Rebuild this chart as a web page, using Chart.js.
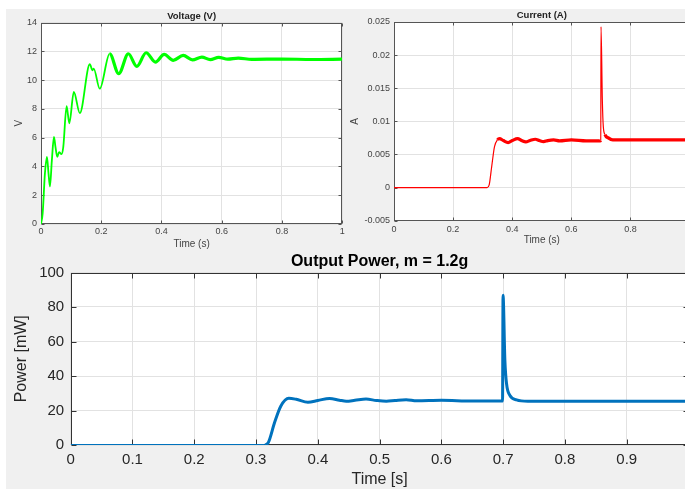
<!DOCTYPE html>
<html>
<head>
<meta charset="utf-8">
<script src="https://cdn.jsdelivr.net/npm/chart.js@4.4.1/dist/chart.umd.min.js"></script>
<style>
  html, body { margin: 0; padding: 0; background: #fff; overflow: hidden; width: 685px; height: 490px; }
  #panel { position: absolute; left: 6px; top: 9px; width: 679px; height: 480px; background: #f0f0f0; }
  canvas { position: absolute; }
</style>
</head>
<body>
<div id="panel"></div>
<canvas id="volt" width="340" height="241" style="left:7px;top:9px"></canvas>
<canvas id="curr" width="349" height="241" style="left:347px;top:9px"></canvas>
<canvas id="pow" width="690" height="239" style="left:7px;top:250px"></canvas>
<script>
// values
const voltTime = [0, 0.0055, 0.013, 0.0198, 0.025, 0.0297, 0.036, 0.043, 0.048, 0.054, 0.060, 0.068, 0.074, 0.085, 0.094, 0.109, 0.129, 0.162, 0.171, 0.175, 0.195, 0.228, 0.258, 0.290, 0.318, 0.349, 0.380, 0.409, 0.439, 0.472, 0.503, 0.534, 0.562, 0.590, 0.620, 0.655, 0.700, 0.800, 0.900, 1.0];
const voltValue = [0, 0.74, 3.5, 4.66, 3.5, 2.6, 4.4, 6.05, 5.36, 4.66, 5.0, 4.85, 5.36, 8.18, 7.0, 9.17, 7.7, 11.1, 10.67, 10.8, 9.4, 11.83, 10.44, 11.83, 10.95, 11.9, 11.25, 11.78, 11.37, 11.71, 11.41, 11.6, 11.42, 11.58, 11.45, 11.52, 11.44, 11.46, 11.43, 11.45];

const currTime = [0, 0.315, 0.322, 0.33, 0.34, 0.35, 0.357, 0.37, 0.386, 0.40, 0.418, 0.432, 0.446, 0.46, 0.478, 0.492, 0.506, 0.52, 0.54, 0.56, 0.60, 0.65, 0.697, 0.6995, 0.7003, 0.7048, 0.7081, 0.7137, 0.725, 0.74, 1.0];
const currValue = [0, 0, 0.0004, 0.003, 0.0062, 0.0072, 0.0074, 0.0071, 0.0068, 0.0071, 0.0074, 0.0071, 0.0069, 0.0071, 0.0073, 0.0071, 0.00695, 0.0071, 0.0072, 0.00705, 0.0072, 0.00705, 0.00705, 0.0071, 0.0243, 0.0132, 0.0092, 0.0080, 0.0075, 0.0072, 0.0072];

const powTime = [0, 0.314, 0.32, 0.33, 0.34, 0.353, 0.365, 0.384, 0.40, 0.419, 0.435, 0.446, 0.46, 0.478, 0.495, 0.511, 0.525, 0.543, 0.56, 0.60, 0.65, 0.699, 0.6998, 0.7028, 0.7055, 0.711, 0.7217, 0.74, 1.0];
const powValue = [0, 0, 1.5, 13, 22.5, 27.1, 26.5, 24.8, 25.8, 27.0, 26.0, 25.4, 25.9, 26.6, 25.8, 25.4, 25.8, 26.2, 25.6, 25.9, 25.5, 25.5, 86.8, 49, 35.5, 28.7, 26.2, 25.4, 25.3];

const xTicksTop = [0, 0.2, 0.4, 0.6, 0.8, 1];
const voltTicks = [0, 2, 4, 6, 8, 10, 12, 14];
const currTicks = [-0.005, 0, 0.005, 0.01, 0.015, 0.02, 0.025];
const xTicksPow = [0, 0.1, 0.2, 0.3, 0.4, 0.5, 0.6, 0.7, 0.8, 0.9];
const powTicks = [0, 20, 40, 60, 80, 100];

const FONT = "'Liberation Sans', Arial, sans-serif";

function axesDecor(o) {
  return {
    id: 'axesDecor',
    beforeDraw(chart) {
      const a = chart.chartArea, c = chart.ctx;
      c.save();
      c.fillStyle = '#fff';
      c.fillRect(a.left, a.top, a.right - a.left, a.bottom - a.top);
      c.restore();
    },
    // box + inner ticks go under the trace, like the zero line in the bottom plot
    beforeDatasetsDraw(chart) {
      const a = chart.chartArea, c = chart.ctx;
      const L = Math.round(a.left) + 0.5, R = Math.round(a.right) - 0.5;
      const T = Math.round(a.top) + 0.5, B = Math.round(a.bottom) - 0.5;
      c.save();
      c.strokeStyle = o.axisColor;
      c.lineWidth = 1;
      c.strokeRect(L, T, R - L, B - T);
      c.beginPath();
      chart.scales.x.ticks.forEach(t => {
        const px = Math.round(chart.scales.x.getPixelForValue(t.value)) + 0.5;
        c.moveTo(px, B); c.lineTo(px, B - o.tick);
        c.moveTo(px, T); c.lineTo(px, T + o.tick);
      });
      chart.scales.y.ticks.forEach(t => {
        const py = Math.round(chart.scales.y.getPixelForValue(t.value)) + 0.5;
        c.moveTo(L, py); c.lineTo(L + o.tick, py);
        c.moveTo(R, py); c.lineTo(R - o.tick, py);
      });
      c.stroke();
      c.restore();
    },
    afterDraw(chart) {
      const a = chart.chartArea, c = chart.ctx;
      c.save();
      c.fillStyle = o.titleColor;
      c.font = 'bold ' + o.titleSize + 'px ' + FONT;
      c.textAlign = 'center';
      c.textBaseline = 'middle';
      c.fillText(o.title, (a.left + a.right) / 2, o.titleY);
      c.restore();
    }
  };
}

function makeChart(id, o) {
  const points = o.times.map((t, i) => ({ x: t, y: o.values[i] }));
  return new Chart(document.getElementById(id), {
    type: 'line',
    data: {
      datasets: [{
        data: points,
        borderColor: o.color,
        borderWidth: o.width,
        pointRadius: 0,
        cubicInterpolationMode: 'monotone',
        segment: { borderWidth: ctx => o.thin(ctx.p0.parsed.x) ? o.thinWidth : o.width }
      }]
    },
    options: {
      responsive: false,
      animation: false,
      events: [],
      layout: { padding: o.pad },
      plugins: { legend: { display: false }, tooltip: { enabled: false } },
      scales: {
        x: {
          type: 'linear', min: 0, max: 1,
          afterBuildTicks: s => { s.ticks = o.xTicks.map(v => ({ value: v })); },
          afterFit: s => { s.height = o.xH; },
          grid: { color: '#e2e2e2', drawTicks: false },
          border: { display: false },
          ticks: { font: { family: FONT, size: o.tickSize }, color: o.tickColor, padding: o.xTickPad, maxRotation: 0, autoSkip: false, callback: v => String(v) },
          title: { display: true, text: o.xTitle, color: o.labelColor, font: { family: FONT, size: o.labelSize, lineHeight: 1.2 }, padding: { top: 0, bottom: o.xTitlePad } }
        },
        y: {
          type: 'linear', min: o.yTicks[0], max: o.yTicks[o.yTicks.length - 1],
          afterBuildTicks: s => { s.ticks = o.yTicks.map(v => ({ value: v })); },
          afterFit: s => { s.width = o.yW; },
          grid: { color: '#e2e2e2', drawTicks: false },
          border: { display: false },
          ticks: { font: { family: FONT, size: o.tickSize }, color: o.tickColor, padding: o.yTickPad, autoSkip: false, callback: v => String(v) },
          title: { display: true, text: o.yTitle, color: o.labelColor, font: { family: FONT, size: o.labelSize, lineHeight: 1.2 }, padding: { top: o.yTitlePad, bottom: 0 } }
        }
      }
    },
    plugins: [axesDecor(o)]
  });
}

makeChart('volt', {
  times: voltTime, values: voltValue, color: '#00ff00', width: 3.2, thinWidth: 1.8,
  thin: x => x < 0.2,
  xTicks: xTicksTop, yTicks: voltTicks,
  pad: { left: 0, right: 3, top: 13.5, bottom: 0 }, xH: 26, yW: 34,
  tickSize: 9, tickColor: '#444', xTickPad: 2.3, yTickPad: 4,
  labelSize: 10, labelColor: '#444', xTitle: 'Time (s)', yTitle: 'V', xTitlePad: 0, yTitlePad: 6,
  title: 'Voltage (V)', titleY: 7, titleSize: 9.5, titleColor: '#222', axisColor: '#555', tick: 3
});

makeChart('curr', {
  times: currTime, values: currValue, color: '#ff0000', width: 3.2, thinWidth: 1.2,
  thin: x => x < 0.345 || (x >= 0.699 && x < 0.712),
  xTicks: xTicksTop, yTicks: currTicks,
  pad: { left: 0, right: 4.5, top: 13, bottom: 0 }, xH: 29.3, yW: 47,
  tickSize: 9, tickColor: '#444', xTickPad: 3.9, yTickPad: 4,
  labelSize: 10, labelColor: '#444', xTitle: 'Time (s)', yTitle: 'A', xTitlePad: 3.3, yTitlePad: 2,
  title: 'Current (A)', titleY: 6.7, titleSize: 9.5, titleColor: '#222', axisColor: '#555', tick: 3
});

makeChart('pow', {
  times: powTime, values: powValue, color: '#0072bd', width: 3, thinWidth: 2,
  thin: x => x < 0.314,
  xTicks: xTicksPow, yTicks: powTicks,
  pad: { left: 0, right: 8.5, top: 22.5, bottom: 0 }, xH: 44, yW: 63.7,
  tickSize: 15, tickColor: '#262626', xTickPad: 6, yTickPad: 6.5,
  labelSize: 16, labelColor: '#262626', xTitle: 'Time [s]', yTitle: 'Power [mW]', xTitlePad: 0, yTitlePad: 5,
  title: 'Output Power, m = 1.2g', titleY: 12, titleSize: 16, titleColor: '#000', axisColor: '#333', tick: 5
});
</script>
</body>
</html>
